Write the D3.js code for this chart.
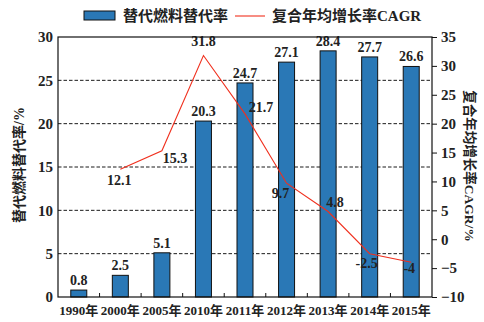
<!DOCTYPE html>
<html><head><meta charset="utf-8">
<script src="https://cdn.jsdelivr.net/npm/d3@7"></script>
<style>body{margin:0;background:#fff}svg{display:block}</style>
</head><body>
<svg id="c" width="484" height="322"></svg>
<script>
const categories = ["1990年","2000年","2005年","2010年","2011年","2012年","2013年","2014年","2015年"];
const substitutionRate = [0.8, 2.5, 5.1, 20.3, 24.7, 27.1, 28.4, 27.7, 26.6];
const cagrCategories = ["2000年","2005年","2010年","2011年","2012年","2013年","2014年","2015年"];
const cagrValues = [12.1, 15.3, 31.8, 21.7, 9.7, 4.8, -2.5, -4];
const cagrLabels = ["12.1","15.3","31.8","21.7","9.7","4.8","-2.5","-4"];
const leftTicks = [0,5,10,15,20,25,30];
const rightTicks = [-10,-5,0,5,10,15,20,25,30,35];
// label offsets (style, not data)
const cagrLabelOffsets = [[-1,16],[13,12],[0,-9],[16,-2],[-6,15],[7,-4],[-3,14],[-2,11]];

const FONT = "'Liberation Serif','Noto Sans CJK SC',serif";
const svg = d3.select("#c");
const m = {l:58, r:432, t:37, b:297};
const x = d3.scaleBand().domain(categories).range([m.l, m.r]);
const yL = d3.scaleLinear().domain([0,30]).range([m.b, m.t]);
const yR = d3.scaleLinear().domain([-10,35]).range([m.b, m.t]);

// gridlines
svg.append("g").selectAll("line").data(leftTicks.filter(d=>d>0&&d<30)).join("line")
  .attr("x1",m.l).attr("x2",m.r).attr("y1",d=>yL(d)).attr("y2",d=>yL(d))
  .attr("stroke","#000").attr("stroke-width",0.9).attr("stroke-dasharray","3.5,2");

// bars
const bw = 16;
svg.append("g").selectAll("rect").data(substitutionRate).join("rect")
  .attr("x",(d,i)=>x(categories[i])+x.bandwidth()/2-bw/2)
  .attr("y",d=>yL(d)).attr("width",bw).attr("height",d=>yL(0)-yL(d))
  .attr("fill","#2a78b6").attr("stroke","#111").attr("stroke-width",1);

svg.append("g").selectAll("text").data(substitutionRate).join("text")
  .attr("x",(d,i)=>x(categories[i])+x.bandwidth()/2)
  .attr("y",d=>yL(d)-5).attr("text-anchor","middle")
  .attr("font-family",FONT).attr("font-weight","bold").attr("font-size",14).attr("fill","#222")
  .text(d=>d);

// line
const line = d3.line().x((d,i)=>x(cagrCategories[i])+x.bandwidth()/2).y(d=>yR(d));
svg.append("path").datum(cagrValues).attr("d",line).attr("fill","none")
  .attr("stroke","#f0301e").attr("stroke-width",1.1);
svg.append("g").selectAll("text").data(cagrValues).join("text")
  .attr("x",(d,i)=>x(cagrCategories[i])+x.bandwidth()/2+cagrLabelOffsets[i][0])
  .attr("y",(d,i)=>yR(d)+cagrLabelOffsets[i][1]).attr("text-anchor","middle")
  .attr("font-family",FONT).attr("font-weight","bold").attr("font-size",14).attr("fill","#222")
  .text((d,i)=>cagrLabels[i]);

// frame
svg.append("rect").attr("x",m.l).attr("y",m.t).attr("width",m.r-m.l).attr("height",m.b-m.t)
  .attr("fill","none").attr("stroke","#111").attr("stroke-width",1.2);

// axes
const axL = svg.append("g").attr("transform",`translate(${m.l},0)`)
  .call(d3.axisLeft(yL).tickValues(leftTicks).tickSize(0).tickPadding(5));
const axR = svg.append("g").attr("transform",`translate(${m.r},0)`)
  .call(d3.axisRight(yR).tickValues(rightTicks).tickSize(5).tickPadding(4).tickFormat(d=>d<0?"\u2212"+Math.abs(d):d));
const axB = svg.append("g").attr("transform",`translate(0,${m.b})`)
  .call(d3.axisBottom(x).tickSize(0).tickPadding(6));
[axL,axR,axB].forEach(a=>{
  a.select(".domain").remove();
  a.selectAll("line").attr("stroke","#111");
  a.selectAll("text").attr("font-family",FONT).attr("font-weight","bold").attr("fill","#222");
});
axL.selectAll("text").attr("font-size",15);
axR.selectAll("text").attr("font-size",15);
axB.selectAll("text").attr("font-size",13).attr("dy","0.9em");
// inward category boundary ticks
svg.append("g").selectAll("line").data(categories.slice(1)).join("line")
  .attr("x1",d=>x(d)).attr("x2",d=>x(d)).attr("y1",m.b).attr("y2",m.b-4)
  .attr("stroke","#111");

// axis titles
svg.append("text").attr("transform",`translate(24,165) rotate(-90)`).attr("text-anchor","middle")
  .attr("font-family",FONT).attr("font-weight","bold").attr("font-size",14).attr("fill","#222")
  .text("替代燃料替代率/%");
svg.append("text").attr("transform",`translate(465,166) rotate(90)`).attr("text-anchor","middle")
  .attr("font-family",FONT).attr("font-weight","bold").attr("font-size",13.5).attr("fill","#222")
  .text("复合年均增长率CAGR/%");

// legend
const lg = svg.append("g");
lg.append("rect").attr("x",84).attr("y",11).attr("width",31).attr("height",9)
  .attr("fill","#2a78b6").attr("stroke","#111").attr("stroke-width",1);
lg.append("text").attr("x",123).attr("y",21).attr("font-family",FONT).attr("font-weight","bold")
  .attr("font-size",15).attr("fill","#222").text("替代燃料替代率");
lg.append("line").attr("x1",235).attr("x2",265).attr("y1",16).attr("y2",16)
  .attr("stroke","#f0301e").attr("stroke-width",1.1);
lg.append("text").attr("x",272).attr("y",21).attr("font-family",FONT).attr("font-weight","bold")
  .attr("font-size",15).attr("fill","#222").text("复合年均增长率CAGR");
</script>
</body></html>
